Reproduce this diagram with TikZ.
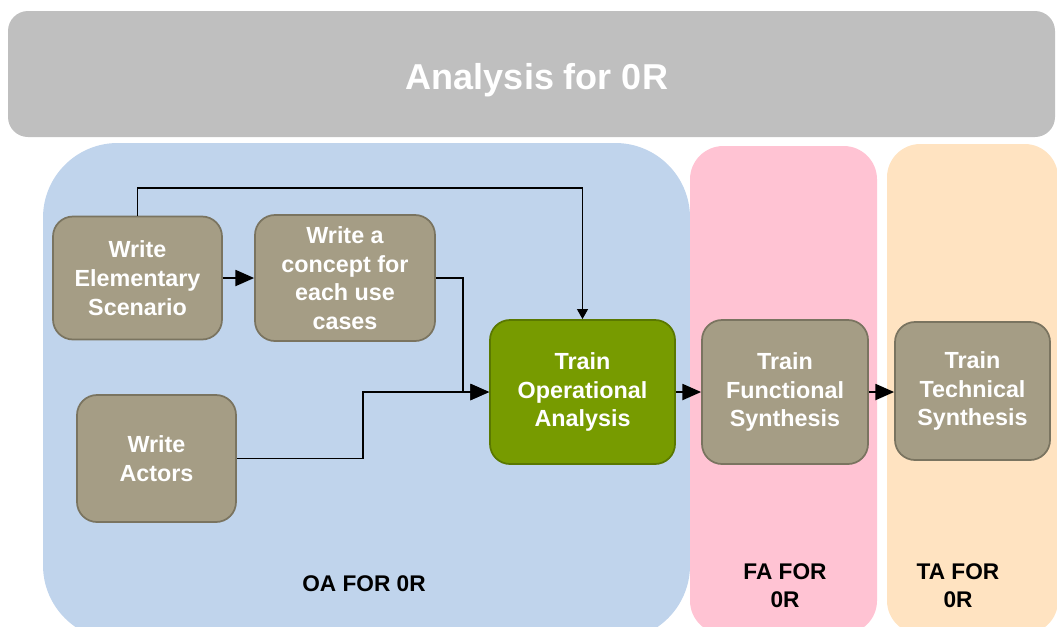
\documentclass[tikz,border=0pt]{standalone}
\usepackage{fontspec}
\setmainfont{Liberation Sans}
\usepackage{tikz}
\usetikzlibrary{arrows.meta}

\begin{document}
\begin{tikzpicture}[x=0.75pt,y=0.75pt,yscale=-1,xscale=1,
  stepbox/.style={draw={rgb, 255:red, 122; green, 116; blue, 96}, fill={rgb, 255:red, 165; green, 157; blue, 133}, rounded corners=15pt, line width=1.3pt, text=white, align=center, inner sep=0pt, font=\fontsize{17.5pt}{21.5pt}\selectfont\bfseries},
  trainbox/.style={stepbox, draw={rgb, 255:red, 90; green, 120; blue, 0}, fill={rgb, 255:red, 119; green, 155; blue, 0}},
  lanelabel/.style={align=center, inner sep=0pt, font=\fontsize{17pt}{21pt}\selectfont\bfseries},
  flow/.style={line width=1.4pt, -{Triangle[length=14pt,width=12pt]}},
  flowsmall/.style={line width=1.4pt, -{Triangle[length=7.5pt,width=8pt]}}
]
\useasboundingbox (0,0) rectangle (1057,626);

%Shape: Rounded Rect [id:lane_oa]
\fill [color={rgb, 255:red, 192; green, 212; blue, 236 }, rounded corners=56pt] (43,143) rectangle (690,640) ;
%Shape: Rounded Rect [id:lane_fa]
\fill [color={rgb, 255:red, 255; green, 195; blue, 211 }, rounded corners=25pt] (690,146) rectangle (877,634) ;
%Shape: Rounded Rect [id:lane_ta]
\fill [color={rgb, 255:red, 255; green, 227; blue, 193 }, rounded corners=25pt] (887,144) rectangle (1058,634) ;
%Shape: Rounded Rect [id:bar_top]
\fill [color={rgb, 255:red, 191; green, 191; blue, 191 }, rounded corners=15pt] (8,11) rectangle (1055,137) ;

% Text Node
\node (title) at (537,89) [anchor=base, inner sep=0pt, text=white, font=\fontsize{27pt}{32pt}\selectfont\bfseries] {Analysis for 0R};

% Text Node
\node (oalabel) at (364,584) [lanelabel] {OA FOR 0R};
% Text Node
\node (falabel) at (785,586) [lanelabel] {FA FOR\\0R};
% Text Node
\node (talabel) at (958,586) [lanelabel] {TA FOR\\0R};

% Text Node
\node (scenario) at (137.5,278) [stepbox, minimum width=126.75pt, minimum height=92.25pt] {Write\\Elementary\\Scenario};
% Text Node
\node (concept) at (345,278) [stepbox, minimum width=135pt, minimum height=94.5pt] {Write a\\concept for\\each use\\cases};
% Text Node
\node (actors) at (156.5,458.5) [stepbox, minimum width=119.25pt, minimum height=95.25pt] {Write\\Actors};
% Text Node
\node (opana) at (582.5,392) [trainbox, minimum width=138.75pt, minimum height=108pt] {Train\\Operational\\Analysis};
% Text Node
\node (funsyn) at (785,392) [stepbox, minimum width=124.5pt, minimum height=108pt] {Train\\Functional\\Synthesis};
% Text Node
\node (techsyn) at (972.5,391) [stepbox, minimum width=116.25pt, minimum height=103.5pt] {Train\\Technical\\Synthesis};

%Straight Lines [id:scenario_to_opana]
\draw [flowsmall] (scenario.north) -- ++(0,-28) -| (opana.north) ;
%Straight Lines [id:scenario_to_concept]
\draw [flow] (scenario.east) -- (concept.west) ;
%Straight Lines [id:concept_to_opana]
\draw [flow] (concept.east) -- ++(27,0) |- (opana.west) ;
%Straight Lines [id:actors_to_opana]
\draw [flow] (actors.east) -- ++(126,0) |- (opana.west) ;
%Straight Lines [id:opana_to_funsyn]
\draw [flow] (opana.east) -- (funsyn.west) ;
%Straight Lines [id:funsyn_to_techsyn]
\draw [flow] (funsyn.east) -- (funsyn.east -| techsyn.west) ;

\end{tikzpicture}
\end{document}
